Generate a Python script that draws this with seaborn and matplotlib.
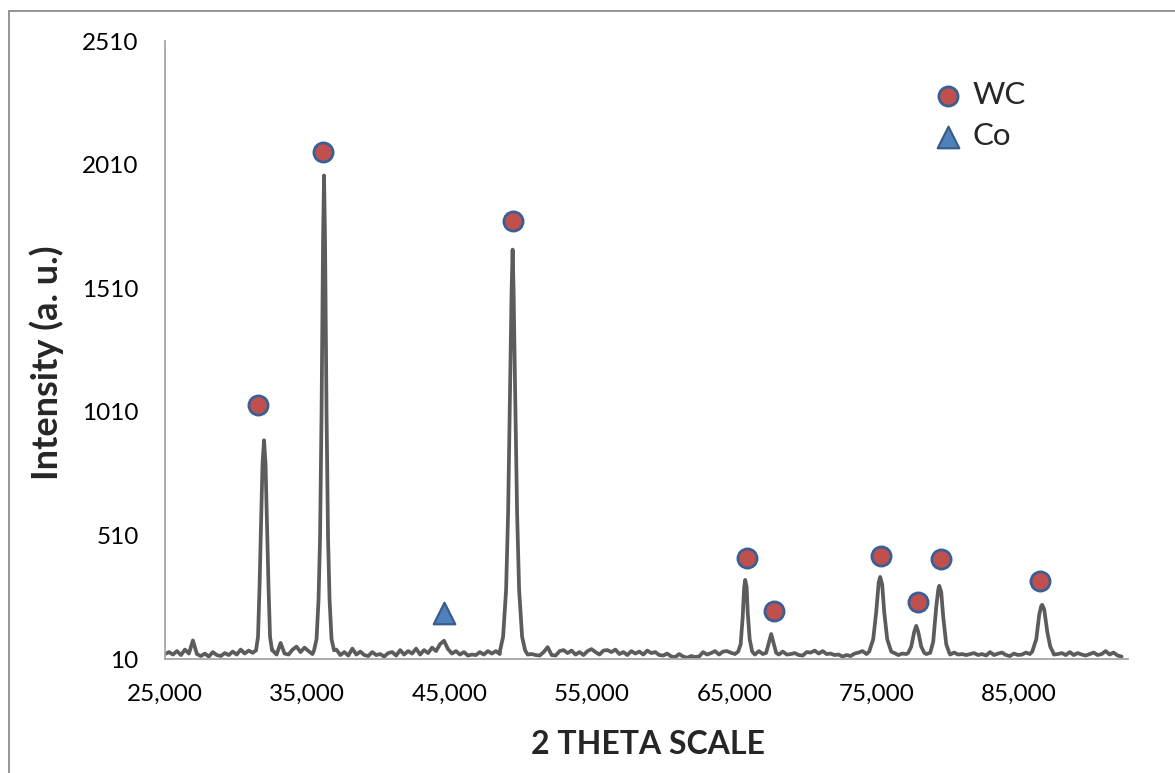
import numpy as np
import pandas as pd
import matplotlib
matplotlib.use("Agg")
import matplotlib.pyplot as plt
from matplotlib.ticker import FuncFormatter
from matplotlib.lines import Line2D
import seaborn as sns

# ---------------- data ----------------
# baseline scan: start, step (2-theta x1000) and intensities
scan_start = 25000
scan_step = 280
baseline_counts = [
    30, 38, 28, 42, 26, 48, 32, 85, 30, 22, 32, 20, 38, 26, 22, 34, 26, 40, 28, 48,
    32, 44, 35, 30, 30, 30, 30, 45, 28, 75, 32, 28, 48, 60, 38, 56, 42, 30, 30, 30,
    30, 30, 30, 48, 26, 38, 24, 52, 28, 40, 26, 22, 38, 26, 30, 20, 34, 38, 24, 46,
    28, 42, 32, 52, 28, 46, 34, 56, 42, 70, 84, 50, 32, 42, 28, 38, 24, 28, 26, 38,
    28, 42, 32, 42, 30, 30, 30, 30, 30, 30, 38, 28, 30, 26, 24, 38, 58, 26, 24, 42,
    46, 34, 44, 28, 38, 26, 42, 50, 38, 28, 44, 46, 38, 48, 30, 38, 26, 42, 32, 40,
    28, 44, 34, 38, 26, 24, 32, 20, 18, 30, 20, 15, 22, 18, 20, 38, 28, 34, 42, 28,
    40, 42, 35, 30, 30, 30, 30, 38, 28, 42, 30, 30, 30, 38, 28, 40, 28, 30, 34, 26,
    24, 38, 36, 44, 32, 42, 30, 32, 26, 28, 20, 26, 22, 32, 36, 42, 30, 30, 30, 30,
    30, 30, 42, 34, 26, 32, 30, 30, 30, 30, 30, 30, 30, 30, 30, 30, 42, 28, 36, 28,
    30, 26, 30, 34, 26, 30, 24, 38, 26, 32, 36, 26, 22, 32, 26, 28, 36, 30, 30, 30,
    30, 30, 42, 28, 30, 34, 26, 38, 26, 34, 28, 24, 30, 36, 26, 30, 42, 28, 36, 24,
    20,
]

# diffraction peaks: 2-theta (x1000) and intensity profile points
peak1_theta = [31395, 31535, 31640, 31746, 31850, 31957, 32062, 32168, 32273, 32378, 32520]
peak1_int = [45, 100, 300, 550, 800, 895, 800, 550, 300, 100, 45]
peak2_theta = [35470, 35646, 35786, 35892, 35997, 36103, 36173, 36243, 36349, 36454, 36560, 36700, 36876]
peak2_int = [45, 90, 250, 500, 1000, 1700, 1966, 1700, 1000, 500, 250, 90, 45]
peak3_theta = [48540, 48751, 48962, 49103, 49243, 49349, 49419, 49489, 49594, 49735, 49876, 50086, 50297]
peak3_int = [45, 100, 290, 600, 1100, 1500, 1666, 1500, 1100, 600, 290, 100, 45]
peak4_theta = [65265, 65441, 65582, 65687, 65757, 65862, 65933, 66073, 66249]
peak4_int = [40, 70, 180, 300, 330, 300, 200, 90, 40]
peak5_theta = [67232, 67443, 67583, 67724, 67935]
peak5_int = [35, 80, 111, 80, 35]
peak6_theta = [74470, 74751, 74962, 75138, 75243, 75384, 75524, 75735, 76016]
peak6_int = [40, 90, 200, 320, 342, 310, 200, 90, 40]
peak7_theta = [77211, 77422, 77633, 77773, 77914, 78125, 78336]
peak7_int = [35, 60, 120, 144, 120, 60, 35]
peak8_theta = [78757, 78967, 79178, 79319, 79389, 79530, 79670, 79881, 80092]
peak8_int = [35, 80, 220, 290, 306, 280, 180, 70, 35]
peak9_theta = [85924, 86205, 86416, 86557, 86627, 86767, 86978, 87189, 87400]
peak9_int = [40, 90, 190, 225, 229, 210, 120, 60, 35]

# phase markers
wc_theta = [31535, 36103, 49455, 65900, 67797, 75316, 77917, 79533, 86490]
wc_int = [1039, 2060, 1781, 419, 204, 427, 241, 415, 326]
co_theta = [44607]
co_int = [196]

x_ticks = [25000, 35000, 45000, 55000, 65000, 75000, 85000]
y_ticks = [10, 510, 1010, 1510, 2010, 2510]
x_label = "2 THETA SCALE"
y_label = "Intensity (a. u.)"

# ---------------- assemble the pattern ----------------
peaks = [
    (peak1_theta, peak1_int), (peak2_theta, peak2_int), (peak3_theta, peak3_int),
    (peak4_theta, peak4_int), (peak5_theta, peak5_int), (peak6_theta, peak6_int),
    (peak7_theta, peak7_int), (peak8_theta, peak8_int), (peak9_theta, peak9_int),
]
base_x = scan_start + scan_step * np.arange(len(baseline_counts))
base_y = np.array(baseline_counts, dtype=float)
keep = np.ones(len(base_x), dtype=bool)
for px, _ in peaks:
    keep &= ~((base_x >= min(px)) & (base_x <= max(px)))
xs = list(base_x[keep])
ys = list(base_y[keep])
for px, py in peaks:
    xs += list(px)
    ys += list(py)
pattern = pd.DataFrame({"theta": xs, "intensity": ys}).sort_values("theta")

# ---------------- plot ----------------
sns.set_style("white")
plt.rcParams["font.family"] = ["Lato", "DejaVu Sans"]

W, H = 1175, 773
fig = plt.figure(figsize=(W / 100, H / 100), dpi=100)
L, R, B, T = 165, 1128, 659, 41
ax = fig.add_axes([L / W, 1 - B / H, (R - L) / W, (B - T) / H])

sns.lineplot(data=pattern, x="theta", y="intensity", ax=ax, color="#5c5c5c",
             linewidth=2.7, estimator=None, sort=True)
sns.scatterplot(x=wc_theta, y=wc_int, ax=ax, marker="o", s=190, color="#C0504D",
                edgecolor="#3A5F95", linewidth=2.0, label="WC", zorder=5)
sns.scatterplot(x=co_theta, y=co_int, ax=ax, marker="^", s=240, color="#4F81BD",
                edgecolor="#385D8A", linewidth=1.6, label="Co", zorder=5)

ax.set_xlim(25000, 92650)
ax.set_ylim(10, 2510)
ax.set_xticks(x_ticks)
ax.set_yticks(y_ticks)
ax.xaxis.set_major_formatter(FuncFormatter(lambda v, p: f"{int(v):,}"))
ax.tick_params(axis="both", length=0, labelsize=17.5, colors="black")
ax.tick_params(axis="y", pad=19)
ax.tick_params(axis="x", pad=18)

for s in ["top", "right"]:
    ax.spines[s].set_visible(False)
for s in ["left", "bottom"]:
    ax.spines[s].set_color("#a6a6a6")
    ax.spines[s].set_linewidth(1.3)

ax.set_xlabel(x_label, fontsize=23, fontweight="bold")
ax.set_ylabel(y_label, fontsize=26, fontweight="bold")
ax.xaxis.set_label_coords((648 - L) / (R - L), (B - 745) / (B - T))
ax.yaxis.set_label_coords((47 - L) / (R - L), (B - 363) / (B - T))
ax.xaxis.label.set(va="center", ha="center")
ax.yaxis.label.set(va="center", ha="center", rotation_mode="anchor")

leg = ax.legend(loc="upper left", bbox_to_anchor=((932 - L) / (R - L), (B - 81) / (B - T)),
                frameon=False, fontsize=22.5, handletextpad=0.3, borderpad=0,
                borderaxespad=0, labelspacing=0.42, handlelength=1.0)

# chart area border (top and left edges)
fig.add_artist(Line2D([9 / W, 1], [1 - 10.5 / H, 1 - 10.5 / H], transform=fig.transFigure,
                      color="#8c8c8c", linewidth=1.3))
fig.add_artist(Line2D([9 / W, 9 / W], [1 - 10.5 / H, 0], transform=fig.transFigure,
                      color="#8c8c8c", linewidth=1.3))

fig.savefig("out.png", dpi=100)
